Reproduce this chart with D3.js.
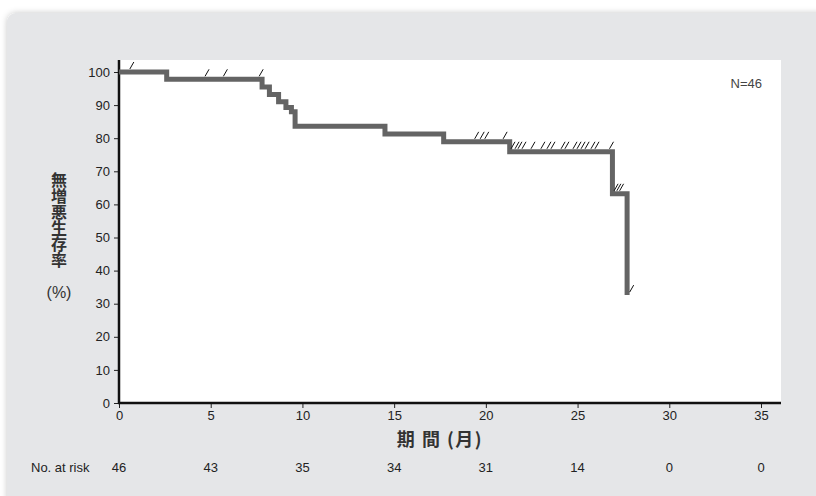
<!DOCTYPE html>
<html>
<head>
<meta charset="utf-8">
<script src="https://cdn.jsdelivr.net/npm/d3@7"></script>
<style>
  body { margin: 0; background: #fff; }
  text { font-family: "Liberation Sans", Arial, sans-serif; }
  .jp { font-family: "Noto Sans CJK JP", sans-serif; }
</style>
</head>
<body>
<svg width="816" height="496"></svg>
<script>
// Kaplan-Meier step curve (months, %)
const stepTimes = [0, 2.6, 7.8, 8.2, 8.7, 9.1, 9.4, 9.6, 14.5, 17.7, 21.3, 26.9, 27.7];
const stepSurv  = [100, 97.8, 95.5, 93.2, 91.0, 89.3, 88.0, 83.6, 81.3, 78.9, 75.9, 63.2, 32.6];

// censored observations (months)
const censorTimes = [0.7, 4.8, 5.8, 7.75,
  19.5, 19.8, 20.05, 21.05,
  21.48, 21.7, 21.86, 22.08, 22.57, 23.11, 23.44, 23.66, 24.21, 24.42,
  24.86, 25.08, 25.3, 25.52, 25.84, 26.06, 26.85,
  27.1, 27.25, 27.4, 27.95];

const xTicks = [0, 5, 10, 15, 20, 25, 30, 35];
const yTicks = [0, 10, 20, 30, 40, 50, 60, 70, 80, 90, 100];
const atRisk = [46, 43, 35, 34, 31, 14, 0, 0];
const yTitle = "無増悪生存率";

var svg = d3.select("svg");

const plotL = 119, plotR = 781, plotT = 60, plotB = 403;
const x = d3.scaleLinear().domain([0, 35]).range([plotL, 761]);
const y = d3.scaleLinear().domain([0, 100]).range([plotB, 72]);

// panel with soft shadow
const defs = svg.append("defs");
const f = defs.append("filter").attr("id", "sh")
  .attr("x", -0.05).attr("y", -0.05).attr("width", 1.2).attr("height", 1.2);
f.append("feDropShadow").attr("dx", 0).attr("dy", 0)
  .attr("stdDeviation", 3).attr("flood-color", "#000").attr("flood-opacity", 0.22);

svg.append("rect")
  .attr("x", 7).attr("y", 13).attr("width", 900).attr("height", 600)
  .attr("rx", 9).attr("fill", "#e5e6e8").attr("filter", "url(#sh)");

svg.append("rect")
  .attr("x", plotL).attr("y", plotT)
  .attr("width", plotR - plotL).attr("height", plotB - plotT)
  .attr("fill", "#fff");

// y axis
const yAxis = svg.append("g")
  .attr("transform", `translate(${plotL},0)`)
  .call(d3.axisLeft(y).tickValues(yTicks).tickSize(5).tickPadding(4));
yAxis.select(".domain").remove();
yAxis.selectAll("text").attr("font-size", 13).attr("fill", "#222")
  .style("font-family", "'Liberation Sans', Arial, sans-serif");
yAxis.selectAll(".tick line").attr("stroke", "#222");

// x axis
const xAxis = svg.append("g")
  .attr("transform", `translate(0,${plotB})`)
  .call(d3.axisBottom(x).tickValues(xTicks).tickSize(5).tickPadding(3));
xAxis.select(".domain").remove();
xAxis.selectAll("text").attr("font-size", 13).attr("fill", "#222")
  .style("font-family", "'Liberation Sans', Arial, sans-serif");
xAxis.selectAll(".tick line").attr("stroke", "#222");

svg.append("line")
  .attr("x1", plotL).attr("x2", plotL).attr("y1", plotT).attr("y2", plotB + 1)
  .attr("stroke", "#111").attr("stroke-width", 2.5);
svg.append("line")
  .attr("x1", plotL - 1).attr("x2", plotR).attr("y1", plotB).attr("y2", plotB)
  .attr("stroke", "#111").attr("stroke-width", 2.5);

// KM curve
const pts = stepTimes.map((t, i) => [t, stepSurv[i]]);
const line = d3.line()
  .x(d => x(d[0])).y(d => y(d[1]))
  .curve(d3.curveStepAfter);
svg.append("path")
  .attr("d", line(pts))
  .attr("fill", "none")
  .attr("stroke", "#646464")
  .attr("stroke-width", 5)
  .attr("stroke-linejoin", "miter");

// censor ticks
const bis = d3.bisector(d => d).right;
function survAt(t) {
  return stepSurv[Math.max(0, bis(stepTimes, t) - 1)];
}
svg.append("g").selectAll("path")
  .data(censorTimes)
  .enter().append("path")
  .attr("d", t => {
    const cx = x(t), cy = y(survAt(t));
    return `M${cx - 2},${cy - 3}L${cx + 2},${cy - 10}`;
  })
  .attr("stroke", "#111")
  .attr("stroke-width", 1);

// N label
svg.append("text")
  .attr("x", 762).attr("y", 88)
  .attr("text-anchor", "end")
  .attr("font-size", 13).attr("fill", "#444")
  .text("N=46");

// y title (vertical)
svg.append("text").attr("class", "jp")
  .attr("x", 59).attr("y", 172)
  .style("writing-mode", "vertical-rl")
  .attr("font-size", 16).attr("font-weight", "bold").attr("fill", "#333")
  .text(yTitle);
svg.append("text")
  .attr("x", 59).attr("y", 298)
  .attr("text-anchor", "middle")
  .attr("font-size", 16).attr("fill", "#333")
  .text("(%)");

// x title
svg.append("text").attr("class", "jp")
  .attr("x", 440).attr("y", 446)
  .attr("text-anchor", "middle")
  .attr("font-size", 18).attr("font-weight", "bold").attr("fill", "#333")
  .attr("letter-spacing", 1.5)
  .text("期 間 (月)");

// number at risk
svg.append("text")
  .attr("x", 31).attr("y", 472)
  .attr("font-size", 13).attr("fill", "#222")
  .text("No. at risk");
svg.append("g").selectAll("text")
  .data(atRisk)
  .enter().append("text")
  .attr("x", (d, i) => x(xTicks[i]))
  .attr("y", 472)
  .attr("text-anchor", "middle")
  .attr("font-size", 13).attr("fill", "#222")
  .text(d => d);
</script>
</body>
</html>
